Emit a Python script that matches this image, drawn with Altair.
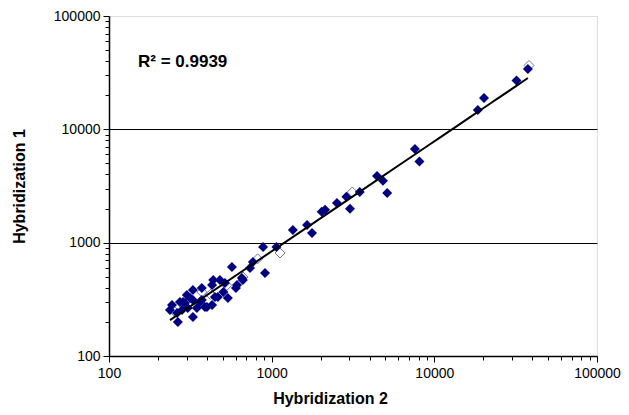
import altair as alt
import pandas as pd

# Filled (dark navy) points: Hybridization 2 (x) vs Hybridization 1 (y)
hyb2 = [37600, 32000, 20200, 18500, 7600, 8100, 4440, 4830, 5130, 3480,
        2880, 3030, 2520, 2130, 2030, 1650, 1770, 1350, 885, 1070,
        767, 910, 736, 665, 570, 656, 603, 516, 505, 437,
        448, 430, 372, 372, 328, 328, 347, 301, 293, 281,
        237, 262, 265, 328, 273, 400, 305, 538, 481, 612,
        244, 389, 467, 315, 362, 285, 430]
hyb1 = [34100, 27000, 18900, 14800, 6700, 5200, 3870, 3510, 2750, 2800,
        2540, 1990, 2240, 1950, 1870, 1430, 1220, 1295, 916, 916,
        676, 541, 598, 469, 611, 488, 398, 440, 367, 468,
        331, 282, 398, 312, 382, 312, 265, 345, 294, 255,
        255, 240, 200, 221, 300, 270, 265, 325, 468, 423,
        282, 270, 331, 325, 300, 300, 423]

# Hollow (white-filled) points
hollow_x = [38200, 3130, 1125, 372, 667, 250, 420, 530, 820]
hollow_y = [36600, 2800, 811, 367, 498, 250, 350, 420, 720]

r2_text = ["R\u00b2 = 0.9939"]

tick_vals = [m * d for d in [100, 1000, 10000] for m in range(1, 10)] + [100000]

df = pd.DataFrame({"x": hyb2, "y": hyb1})
dh = pd.DataFrame({"x": hollow_x, "y": hollow_y})

FONT = "Liberation Sans"
is_dec = "indexof([100,1000,10000,100000], datum.value) >= 0"

xs = alt.Scale(type="log", domain=[100, 100000], nice=False)
ys = alt.Scale(type="log", domain=[100, 100000], nice=False)

xaxis = alt.Axis(
    values=tick_vals, title="Hybridization 2", grid=False,
    labelExpr=f"{is_dec} ? format(datum.value, 'd') : ''",
    labelOverlap=False, labelFlush=False, labelFont=FONT, labelFontSize=14,
    labelColor="black", labelPadding=4,
    tickSize={"condition": {"test": is_dec, "value": 6}, "value": 4},
    tickColor="black", tickWidth=1, domainColor="black", domainWidth=1.5,
    titleFont=FONT, titleFontSize=16, titleFontWeight="bold", titleColor="black",
    titleX=221, titleY=47, titleBaseline="alphabetic",
)
yaxis = alt.Axis(
    values=tick_vals, title="Hybridization 1",
    grid=True, gridColor="black", gridWidth=1,
    gridOpacity={"condition": {"test": "indexof([1000,10000], datum.value) >= 0", "value": 1}, "value": 0},
    labelExpr=f"{is_dec} ? format(datum.value, 'd') : ''",
    labelOverlap=False, labelFlush=False, labelFont=FONT, labelFontSize=14,
    labelColor="black", labelPadding=3,
    tickSize={"condition": {"test": is_dec, "value": 6}, "value": 4},
    tickColor="black", tickWidth=1, domainColor="black", domainWidth=1.5,
    titleFont=FONT, titleFontSize=16, titleFontWeight="bold", titleColor="black",
    titleX=-82, titleY=170,
)

hollow = alt.Chart(dh).mark_point(
    shape="diamond", size=100, filled=True, fill="white", stroke="#7070b8", strokeWidth=1, opacity=1
).encode(x=alt.X("x:Q", scale=xs, axis=xaxis), y=alt.Y("y:Q", scale=ys, axis=yaxis))

filled = alt.Chart(df).mark_point(
    shape="diamond", size=100, filled=True, color="#000080", opacity=1
).encode(x=alt.X("x:Q", scale=xs), y=alt.Y("y:Q", scale=ys))

trend = alt.Chart(df).transform_regression("x", "y", method="pow").mark_line(
    color="black", strokeWidth=2
).encode(x=alt.X("x:Q", scale=xs), y=alt.Y("y:Q", scale=ys))

label = alt.Chart(pd.DataFrame({"t": r2_text})).mark_text(
    align="left", baseline="alphabetic", font=FONT, fontSize=17, fontWeight="bold", color="black"
).encode(text="t:N", x=alt.value(29), y=alt.value(51))

chart = alt.layer(hollow, filled, trend, label).properties(
    width=488, height=340,
    autosize=alt.AutoSizeParams(type="none"),
    padding={"left": 101, "top": 8, "right": 24, "bottom": 51},
).configure_view(stroke="#808080", strokeWidth=2).configure(background="white")

chart.save("out.html", embed_options={"renderer": "svg", "actions": False})
